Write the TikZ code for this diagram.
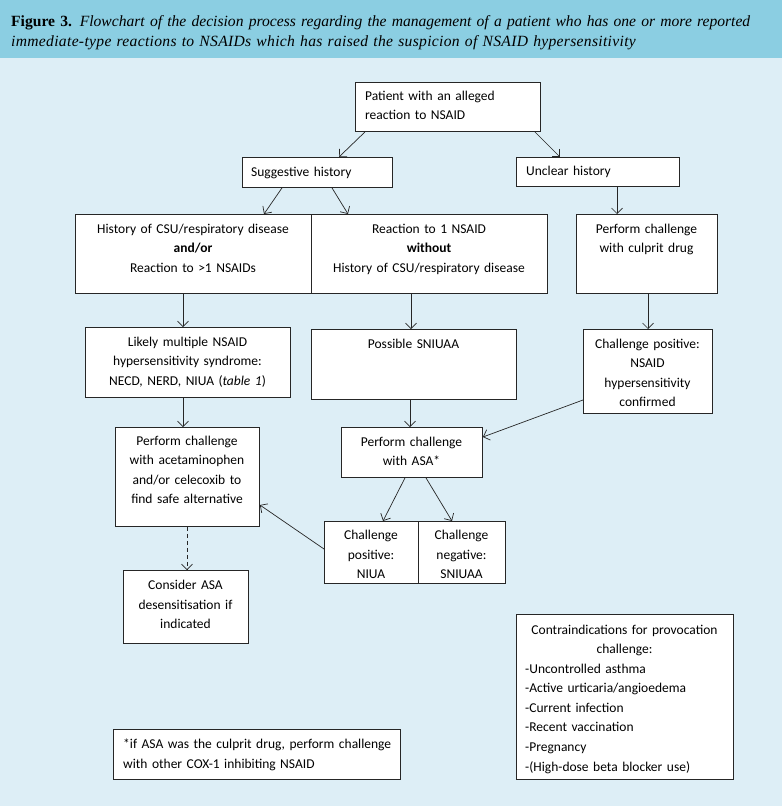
\documentclass[tikz,border=0pt]{standalone}
\usepackage{fontspec}
\setmainfont{Carlito}
\newfontfamily\titlefont{Liberation Serif}
\usetikzlibrary{arrows.meta,calc}
\definecolor{hdr}{RGB}{139,206,226}
\definecolor{bg}{RGB}{221,238,246}
\begin{document}
\begin{tikzpicture}[x=1pt,y=-1pt,
  box/.style={draw=black!85, fill=white, line width=0.9pt, inner sep=0pt, anchor=north west},
  txt/.style={font=\fontsize{13.5}{19.6}\selectfont, align=center, inner sep=0pt, anchor=base},
  ltxt/.style={font=\fontsize{13.5}{19.6}\selectfont, align=left, inner sep=0pt, anchor=base west},
  arr/.style={-{Straight Barb[length=5.5pt,width=11pt]}, line width=0.7pt, black!85},
  darr/.style={arr, dash pattern=on 4pt off 3pt}]
\useasboundingbox (0,0) rectangle (782,806);
\fill[bg] (0,0) rectangle (782,806);
\fill[hdr] (0,0) rectangle (782,58);
\node[anchor=base west, inner sep=0pt, align=left, text width=780pt,
  font=\titlefont\fontsize{15.6}{20}\selectfont] (title) at (11,26)
  {\textbf{Figure 3.} \textit{Flowchart of the decision process regarding the management of a patient who has one or more reported}\\
   {\addfontfeature{LetterSpace=2}\textit{immediate-type reactions to NSAIDs which has raised the suspicion of NSAID hypersensitivity}}};

% boxes
\node[box, minimum width=185pt, minimum height=49pt] (pat) at (355,82) {};
\node[box, minimum width=150pt, minimum height=30pt] (sugg) at (242,157) {};
\node[box, minimum width=163pt, minimum height=29pt] (uncl) at (516,157) {};
\node[box, minimum width=236pt, minimum height=79pt] (hist) at (75,214) {};
\node[box, minimum width=236pt, minimum height=79pt] (react) at (311,214) {};
\node[box, minimum width=141pt, minimum height=79pt] (cul) at (576,214) {};
\node[box, minimum width=205pt, minimum height=70pt] (likely) at (85,327) {};
\node[box, minimum width=205pt, minimum height=70pt] (poss) at (311,329) {};
\node[box, minimum width=129pt, minimum height=84pt] (cpos) at (583,329) {};
\node[box, minimum width=144pt, minimum height=99pt] (acet) at (115,427) {};
\node[box, minimum width=141pt, minimum height=50pt] (asa) at (341,427) {};
\node[box, minimum width=94pt, minimum height=62pt] (niua) at (324,521) {};
\node[box, minimum width=87pt, minimum height=62pt] (neg) at (418,521) {};
\node[box, minimum width=125pt, minimum height=73pt] (cons) at (123,570) {};
\node[box, minimum width=287pt, minimum height=50pt] (foot) at (113,729) {};
\node[box, minimum width=217pt, minimum height=165pt] (contra) at (516,614) {};

% texts
\node[ltxt, text width=175pt] (tpat) at (365,100) {Patient with an alleged\\reaction to NSAID};
\node[ltxt, text width=140pt] (tsugg) at (251,176) {Suggestive history};
\node[ltxt, text width=150pt] (tuncl) at (526,175) {Unclear history};
\node[txt, text width=236pt] (thist) at (193,233) {History of CSU/respiratory disease\\\textbf{and/or}\\Reaction to >1 NSAIDs};
\node[txt, text width=236pt] (treact) at (429,233) {Reaction to 1 NSAID\\\textbf{without}\\History of CSU/respiratory disease};
\node[txt, text width=141pt] (tcul) at (646.5,233) {Perform challenge\\with culprit drug};
\node[txt, text width=205pt] (tlikely) at (187.5,346) {Likely multiple NSAID\\hypersensitivity syndrome:\\NECD, NERD, NIUA (\textit{table 1})};
\node[txt, text width=205pt] (tposs) at (413.5,348) {Possible SNIUAA};
\node[txt, text width=129pt] (tcpos) at (647.5,348) {Challenge positive:\\NSAID\\hypersensitivity\\confirmed};
\node[txt, text width=144pt] (tacet) at (187,445) {Perform challenge\\with acetaminophen\\and/or celecoxib to\\find safe alternative};
\node[txt, text width=141pt] (tasa) at (411.5,446) {Perform challenge\\with ASA*};
\node[txt, text width=94pt] (tniua) at (371,539.5) {Challenge\\positive:\\NIUA};
\node[txt, text width=87pt] (tneg) at (461.5,539.5) {Challenge\\negative:\\SNIUAA};
\node[txt, text width=125pt] (tcons) at (185.5,589.5) {Consider ASA\\desensitisation if\\indicated};
\node[ltxt, text width=280pt] (tfoot) at (123,748.5) {*if ASA was the culprit drug, perform challenge\\with other COX-1 inhibiting NSAID};
\node[txt, text width=217pt] (tcontra) at (624.5,634) {Contraindications for provocation\\challenge:};
\node[ltxt, text width=205pt] (tcl) at (525,673) {-Uncontrolled asthma\\-Active urticaria/angioedema\\-Current infection\\-Recent vaccination\\-Pregnancy\\-(High-dose beta blocker use)};

% connectors
\draw[arr] ([xshift=10pt]pat.south west) -- ([xshift=97pt]sugg.north west);
\draw[arr] ([xshift=-6pt]pat.south east) -- ([xshift=44pt]uncl.north west);
\draw[arr] ([xshift=40pt]sugg.south west) -- ([xshift=189pt]hist.north west);
\draw[arr] ([xshift=90pt]sugg.south west) -- ([xshift=37pt]react.north west);
\draw[arr] ([xshift=101pt]uncl.south west) -- ([xshift=41pt]cul.north west);
\draw[arr] ([xshift=108pt]hist.south west) -- ([xshift=98pt]likely.north west);
\draw[arr] ([xshift=100pt]react.south west) -- ([xshift=100pt]poss.north west);
\draw[arr] ([xshift=72pt]cul.south west) -- ([xshift=65pt]cpos.north west);
\draw[arr] ([xshift=98pt]likely.south west) -- ([xshift=68pt]acet.north west);
\draw[arr] ([xshift=99pt]poss.south west) -- ([xshift=69pt]asa.north west);
\draw[arr] ([yshift=-71pt]cpos.north west) -- ([yshift=-10pt]asa.north east);
\draw[arr] ([xshift=64pt]asa.south west) -- ([xshift=59pt]niua.north west);
\draw[arr] ([xshift=85pt]asa.south west) -- ([xshift=34pt]neg.north west);
\draw[arr] ([yshift=-28pt]niua.north west) -- ([yshift=-78pt]acet.north east);
\draw[darr] ([xshift=72pt]acet.south west) -- ([xshift=64pt]cons.north west);
\end{tikzpicture}
\end{document}
